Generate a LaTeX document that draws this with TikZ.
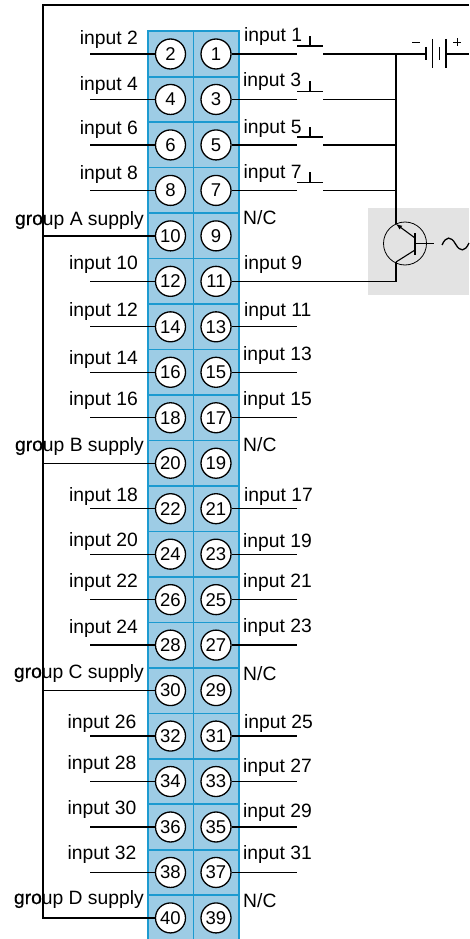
\documentclass[tikz,border=0pt]{standalone}
\usepackage{fontspec}
\setmainfont{Liberation Sans}
\usetikzlibrary{arrows, calc}

\definecolor{cellfill}{HTML}{9DCCE5}
\definecolor{celledge}{HTML}{1C9AD0}
\definecolor{boxgrey}{HTML}{E3E3E3}

\newcommand{\gro}{{\addfontfeature{FakeBold=0.5}gro}up}

\begin{document}
\begin{tikzpicture}[
    x=1pt,y=-1pt,
    wire/.style={draw,line width=1.35pt},
    cell/.style={rectangle,draw=celledge,fill=cellfill,line width=1.6pt,minimum width=45.5pt,minimum height=45.47pt,inner sep=0},
    terminal/.style={circle,draw,fill=white,line width=1.3pt,minimum width=30pt,inner sep=0,font=\fontsize{18.5}{18.5}\selectfont},
    lab/.style={inner sep=0,font=\fontsize{19.3}{19.3}\selectfont},
    left lab/.style={lab,anchor=base east},
    right lab/.style={lab,anchor=base west},
    greybox/.style={rectangle,fill=boxgrey,minimum width=101pt,minimum height=87pt,inner sep=0}]

    \useasboundingbox (0,0) rectangle (469,939);

    \node[greybox] (tbox) at (418.5,251.5) {};

    \foreach \r in {0,...,19} {
        \pgfmathsetmacro{\y}{54+45.47*\r}
        \pgfmathtruncatemacro{\even}{2*\r+2}
        \pgfmathtruncatemacro{\odd}{2*\r+1}
        \node[cell] (c\even) at (170.75,\y) {};
        \node[cell] (c\odd) at (216.25,\y) {};
        \node[terminal] (t\even) at (170.5,\y) {\even};
        \node[terminal] (t\odd) at (216,\y) {\odd};
    }

    % input wires, left column
    \foreach \n in {2,4,6,8,12,14,16,18,22,24,26,28,32,34,36,38} {
        \coordinate (w\n) at (90,0 |- t\n);
        \draw[wire] (t\n) -- (w\n);
    }

    % input wires, right column
    \foreach \n in {11,13,15,17,21,23,25,27,31,33,35,37} {
        \coordinate (w\n) at (297,0 |- t\n);
        \draw[wire] (t\n) -- (w\n);
    }

    % left labels
    \foreach \n/\lx/\by/\txt in {2/138/45/input 2,4/138/91/input 4,6/138/135/input 6,8/138/179/input 8,
        12/138/269/input 10,14/138/316/input 12,16/138/364/input 14,18/138/405/input 16,
        22/138/501/input 18,24/138/546/input 20,26/138/587/input 22,28/138/633/input 24,
        32/136.5/728/input 26,34/136.5/769/input 28,36/136.5/814/input 30,38/136.5/859/input 32,
        10/144/225/\gro{} A supply,20/144/451/\gro{} B supply,30/144/678/\gro{} C supply,40/144/904/\gro{} D supply} {
        \node[left lab] (lab\n) at (\lx,\by) {\txt};
    }

    % right labels
    \foreach \n/\lx/\by/\txt in {1/244/42/input 1,3/243/87/input 3,5/243.5/133/input 5,7/243.5/178/input 7,
        9/243/224/N\slash C,11/244/269/input 9,13/244/316/input 11,15/243/360/input 13,17/243/405/input 15,
        19/243/451/N\slash C,21/244/501/input 17,23/243/547/input 19,25/243/587/input 21,27/243/632/input 23,
        29/243/680/N\slash C,31/244/728/input 25,33/243/772/input 27,35/243/817/input 29,37/243/859/input 31,
        39/243/907/N\slash C} {
        \node[right lab] (lab\n) at (\lx,\by) {\txt};
    }

    % switches
    \foreach \n in {1,3,5,7} {
        \coordinate (sa\n) at (297,0 |- t\n);
        \coordinate (sb\n) at (323,0 |- t\n);
        \coordinate (j\n) at (396,0 |- t\n);
        \draw[wire] (t\n) -- (sa\n);
        \draw[wire] (sb\n) -- (j\n);
        \draw[wire] ($(sa\n)+(0,-8)$) -- ($(sb\n)+(0,-8)$);
        \draw[wire] ($(sa\n)!.5!(sb\n)+(0,-8)$) -- ++(0,-10);
    }

    % battery
    \coordinate (bat) at (426,54);
    \coordinate (batr) at (446,54);
    \coordinate (rtop) at (469,54);
    \draw[wire] (j1) -- (bat);
    \draw[wire] (batr) -- (rtop);
    \draw[wire] (426,47) -- (426,60);
    \draw[wire] (432.7,39) -- (432.7,68);
    \draw[wire] (439.3,47) -- (439.3,60);
    \draw[wire] (446,39) -- (446,68);
    \draw[line width=1pt] (412,42.5) -- (420,42.5);
    \draw[line width=1pt] (453,42.5) -- (461,42.5);
    \draw[line width=1pt] (457,38.5) -- (457,46.5);

    % transistor
    \node[circle,draw,line width=.8pt,minimum width=43pt,inner sep=0] (q) at (405,243.5) {};
    \coordinate (emit) at (396,224);
    \coordinate (coll) at (396,262);
    \coordinate (base) at (415,243.5);
    \coordinate (ctl) at (434,243.5);
    \draw[wire] (j1) -- (emit);
    \draw[wire] (coll) -- (396,0 |- t11) -- (t11);
    \draw[wire] (415,233) -- (415,255);
    \draw[wire] (base) -- (ctl);
    \draw[line width=1.1pt,-latex] (415,238) -- (emit);
    \draw[line width=1.1pt] (415,250) -- (coll);
    \draw[line width=1.3pt] (442,245) .. controls (446,236) and (451,236) .. (455.5,244) .. controls (460,252) and (465,252) .. (469,243);

    % supply frame
    \coordinate (ftop) at (43,5);
    \coordinate (fright) at (469,5);
    \coordinate (fbot) at (43,0 |- t40);
    \draw[wire] (fright) -- (ftop) -- (fbot) -- (t40);
    \draw[wire] (43,0 |- t10) -- (t10);
    \draw[wire] (43,0 |- t20) -- (t20);
    \draw[wire] (43,0 |- t30) -- (t30);
\end{tikzpicture}
\end{document}
